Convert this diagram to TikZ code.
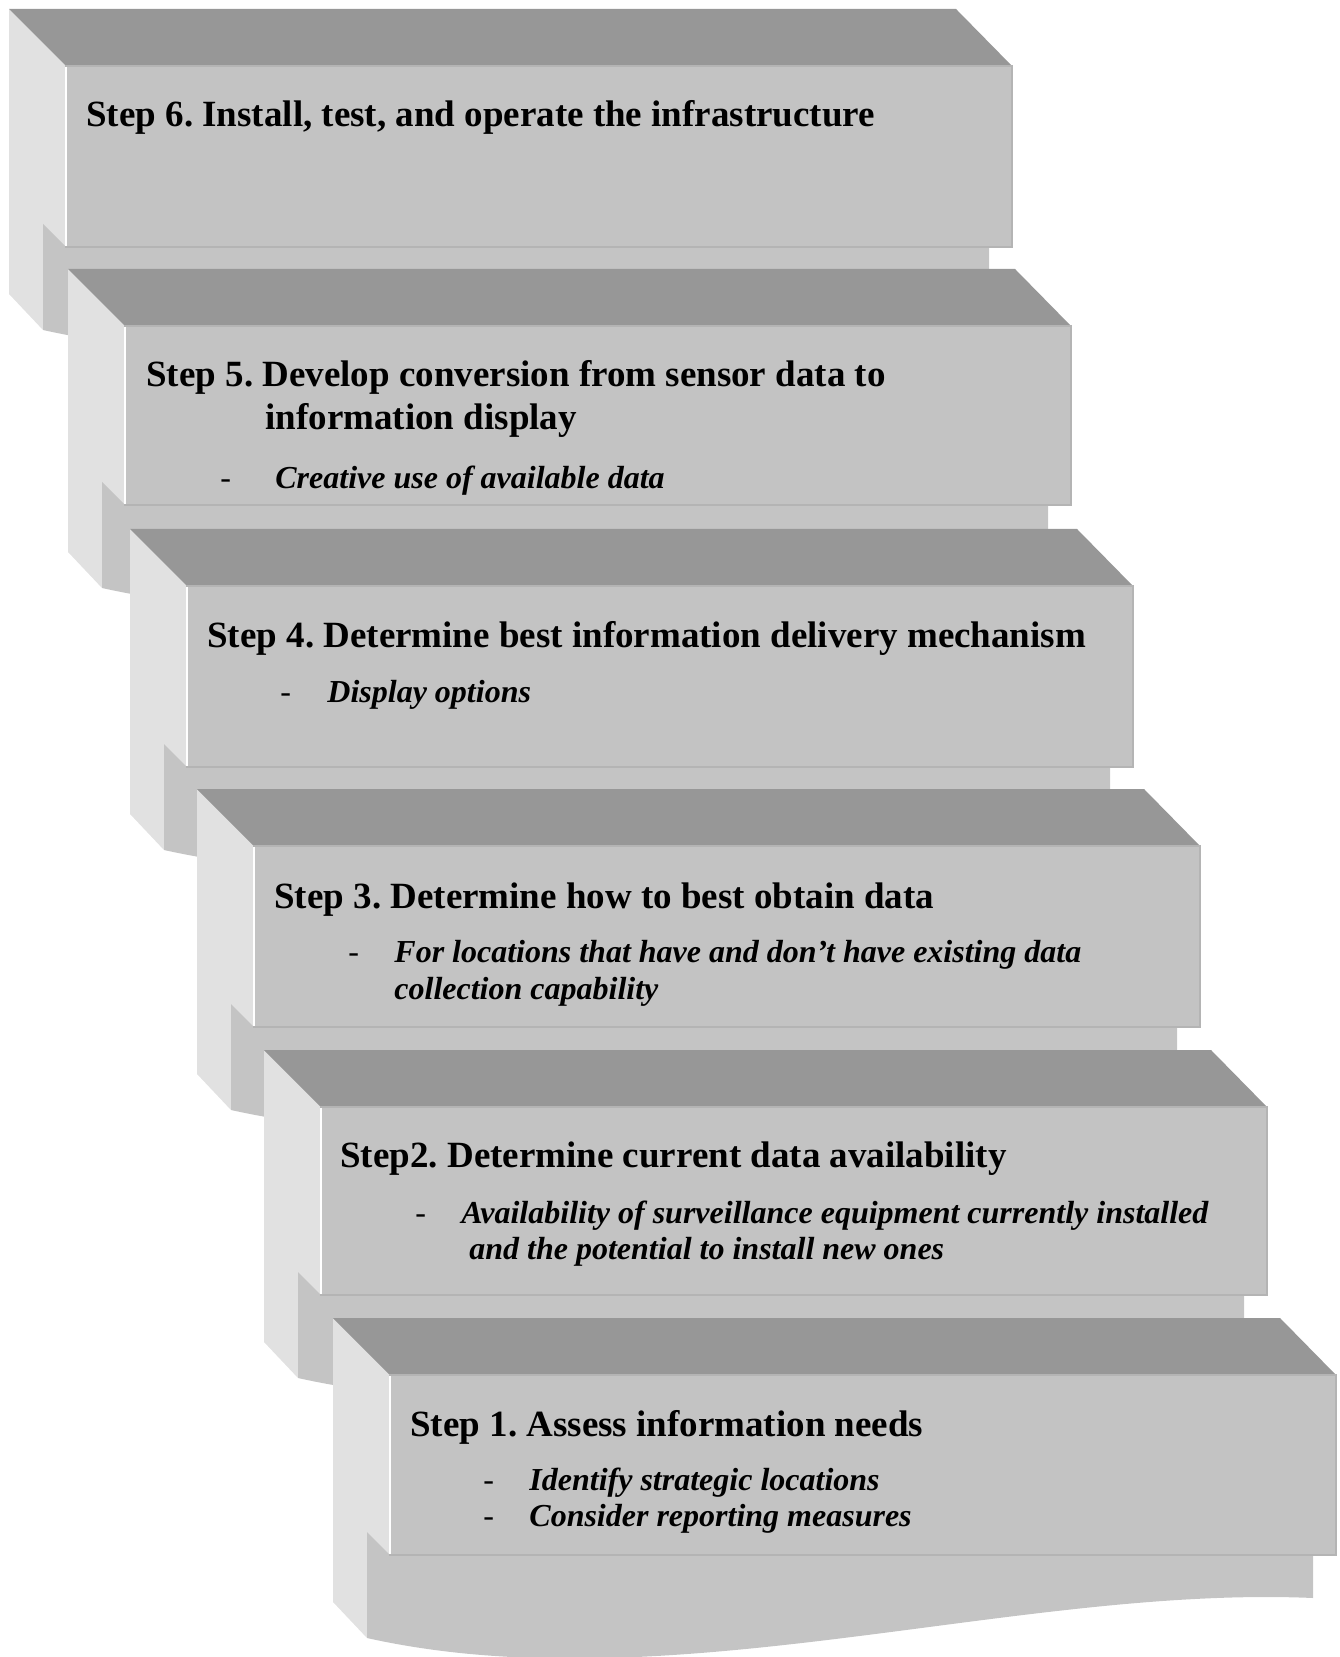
\documentclass[tikz,border=0pt]{standalone}
\usepackage{fontspec}
\setmainfont{Liberation Serif}
\usepackage{tikz}
\usetikzlibrary{positioning}
\frenchspacing
\definecolor{topgray}{HTML}{979797}
\definecolor{sidegray}{HTML}{E1E1E1}
\definecolor{frontgray}{HTML}{C3C3C3}
\definecolor{slabgray}{HTML}{C4C4C4}
\definecolor{edgegray}{HTML}{B4B4B4}
\tikzset{
        steptitle/.style={font=\bfseries\fontsize{18.5}{22}\selectfont, anchor=base west, inner sep=0pt},
        stepitem/.style={font=\bfseries\itshape\fontsize{16}{19}\selectfont, anchor=base west, inner sep=0pt},
        stepdash/.style={font=\fontsize{16}{19}\selectfont, anchor=base west, inner sep=0pt},
}
% #1 left x, #2 top y, #3 bottom of the front face
\newcommand{\stepblock}[3]{%
        \fill[sidegray] (#1,#2) -- ({#1+57},{#2+57}) -- ({#1+57},#3) -- ({#1+34},#3)
                -- ({#1+34},{#3+83}) -- (#1,{#3+47}) -- cycle;
        \fill[slabgray] ({#1+34},{#3-23}) -- ({#1+57},#3) -- ({#1+980},#3) -- ({#1+980},{#3+43})
                .. controls ({#1+684},{#3+30}) and ({#1+334},{#3+150}) .. ({#1+34},{#3+83}) -- cycle;
        \fill[topgray] (#1,#2) -- ({#1+947},#2) -- ({#1+1003},{#2+57}) -- ({#1+57},{#2+57}) -- cycle;
        \filldraw[fill=frontgray, draw=edgegray, line width=0.8pt] ({#1+57},{#2+57}) rectangle ({#1+1003},#3);
        \draw[white, line width=0.6pt] ({#1+57},{#2+58}) -- ({#1+57},{#3-1});
}
\begin{document}
\begin{tikzpicture}[x=0.5pt, y=-0.5pt]
        \useasboundingbox (0,0) rectangle (1339,1657);
        \stepblock{9}{9}{247}
        \stepblock{68}{269}{505}
        \stepblock{130}{529}{767}
        \stepblock{197}{789}{1027}
        \stepblock{264}{1050}{1295}
        \stepblock{333}{1318}{1555}

        \node[steptitle] (s6title) at (86,127) {Step 6. Install, test, and operate the infrastructure};

        \node[steptitle] (s5title) at (146,387) {Step 5. Develop conversion from sensor data to};
        \node[steptitle] (s5titleb) at (265,430) {information display};
        \node[stepdash] (s5dash) at (220,489) {-};
        \node[stepitem] (s5item) at (275,489) {Creative use of available data};

        \node[steptitle] (s4title) at (207,647) {Step 4. Determine best information delivery mechanism};
        \node[stepdash] (s4dash) at (280,702) {-};
        \node[stepitem] (s4item) at (327,702) {Display options};

        \node[steptitle] (s3title) at (274,908) {Step 3. Determine how to best obtain data};
        \node[stepdash] (s3dash) at (348,962) {-};
        \node[stepitem] (s3item) at (394,962) {For locations that have and don’t have existing data};
        \node[stepitem] (s3itemb) at (394,999) {collection capability};

        \node[steptitle] (s2title) at (340,1167) {Step2. Determine current data availability};
        \node[stepdash] (s2dash) at (415,1223) {-};
        \node[stepitem] (s2item) at (461,1223) {Availability of surveillance equipment currently installed};
        \node[stepitem] (s2itemb) at (469,1259) {and the potential to install new ones};

        \node[steptitle] (s1title) at (410,1436) {Step 1. Assess information needs};
        \node[stepdash] (s1dasha) at (483,1490) {-};
        \node[stepitem] (s1itema) at (529,1490) {Identify strategic locations};
        \node[stepdash] (s1dashb) at (483,1526) {-};
        \node[stepitem] (s1itemb) at (529,1526) {Consider reporting measures};
\end{tikzpicture}
\end{document}
